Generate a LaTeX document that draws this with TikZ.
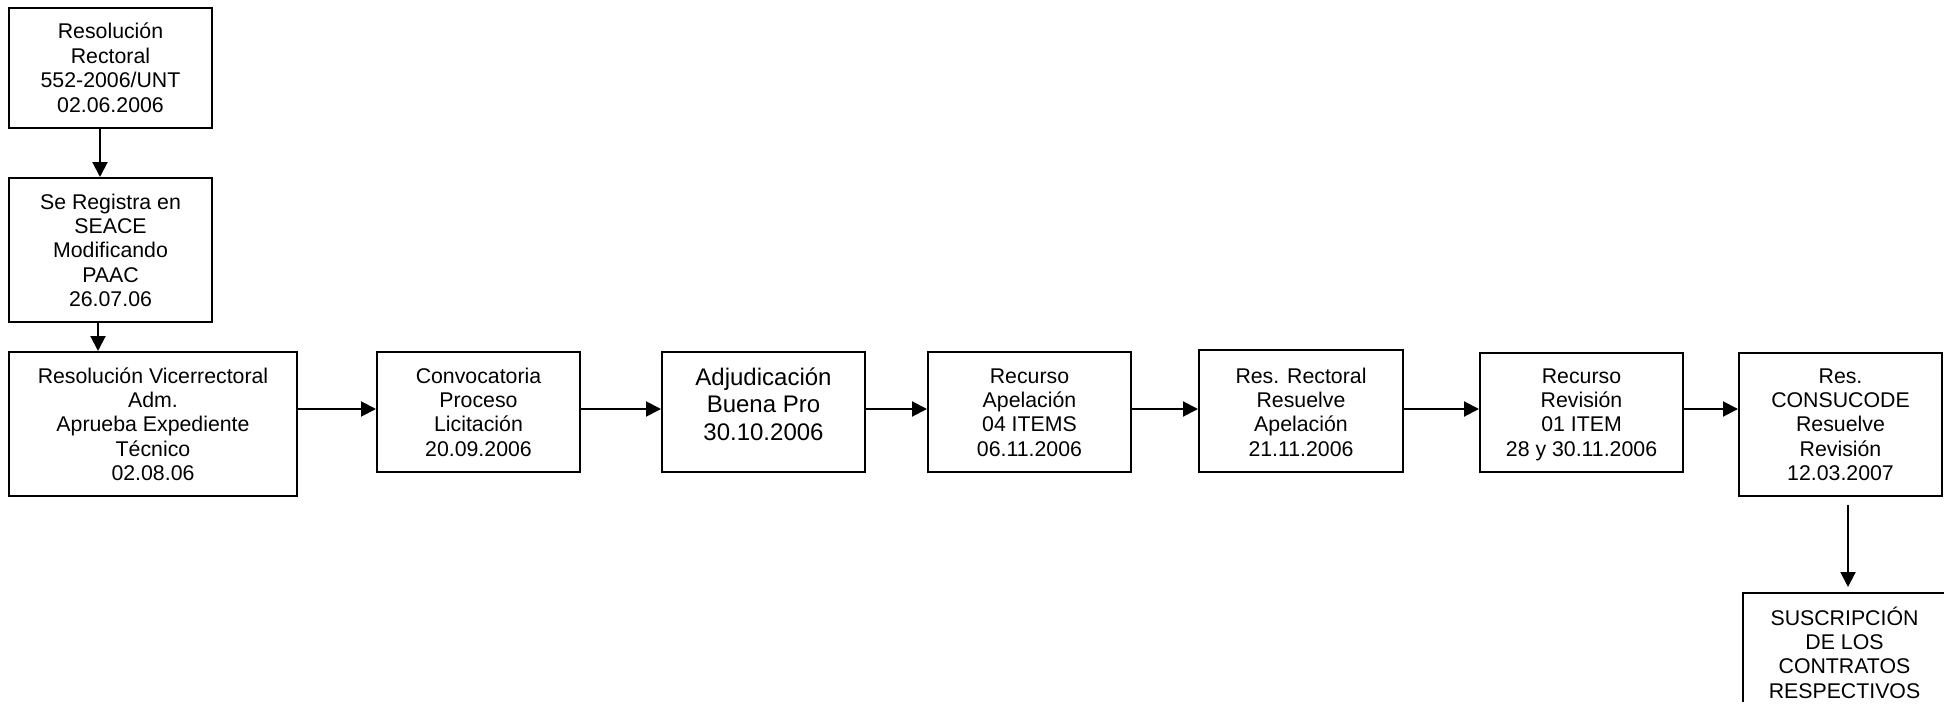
\documentclass[tikz,border=0pt]{standalone}
\usepackage{fontspec}
\setmainfont{Liberation Sans}
\usetikzlibrary{arrows.meta}
\tikzset{
  flowbox/.style={draw, line width=2pt, inner sep=0pt, anchor=north west,
    font=\fontsize{21.3}{24.4}\selectfont},
  bigtext/.style={font=\fontsize{24}{27.8}\selectfont},
  arr/.style={line width=2pt, -{Triangle[length=15pt,width=15pt]}},
}
\newcommand{\bxtext}[4]{\parbox[c][#2][t]{#1}{\centering\rule{0pt}{#3}#4}}
\begin{document}
\begin{tikzpicture}[x=1pt,y=-1pt]
\useasboundingbox (0,0) rectangle (1944,709);
\clip (0,0) rectangle (1944,701);
\node[flowbox] (b1) at (8,7) {\bxtext{203pt}{120pt}{31pt}{Resolución\\Rectoral\\552-2006/UNT\\02.06.2006}};
\node[flowbox] (b2) at (8,177) {\bxtext{203pt}{144pt}{31pt}{Se Registra en\\SEACE\\Modificando\\PAAC\\26.07.06}};
\node[flowbox] (b3) at (8,351) {\bxtext{288pt}{144pt}{31pt}{Resolución Vicerrectoral\\Adm.\\Aprueba Expediente\\Técnico\\02.08.06}};
\node[flowbox] (b4) at (376,351) {\bxtext{203pt}{120pt}{31pt}{Convocatoria\\Proceso\\Licitación\\20.09.2006}};
\node[flowbox,bigtext] (b5) at (661,351) {\bxtext{203pt}{120pt}{33pt}{Adjudicación\\Buena Pro\\30.10.2006}};
\node[flowbox] (b6) at (927,351) {\bxtext{203pt}{120pt}{31pt}{Recurso\\Apelación\\04 ITEMS\\06.11.2006}};
\node[flowbox] (b7) at (1198,349) {\bxtext{204pt}{122pt}{33pt}{Res. Rectoral\\Resuelve\\Apelación\\21.11.2006}};
\node[flowbox] (b8) at (1479,352) {\bxtext{203pt}{119pt}{30pt}{Recurso\\Revisión\\01 ITEM\\28 y 30.11.2006}};
\node[flowbox] (b9) at (1738,352) {\bxtext{203pt}{143pt}{30pt}{Res.\\CONSUCODE\\Resuelve\\Revisión\\12.03.2007}};
\node[flowbox] (b10) at (1742,592) {\bxtext{203pt}{130pt}{32pt}{SUSCRIPCIÓN\\DE LOS\\CONTRATOS\\RESPECTIVOS}};
\coordinate (row) at (0,409);
\draw[arr] ([xshift=-10.5pt]b1.south) -- ([xshift=-10.5pt]b1.south |- b2.north);
\draw[arr] ([xshift=-12.5pt]b2.south) -- ([xshift=-12.5pt]b2.south |- b3.north);
\draw[arr] (b3.east |- row) -- (b4.west |- row);
\draw[arr] (b4.east |- row) -- (b5.west |- row);
\draw[arr] (b5.east |- row) -- (b6.west |- row);
\draw[arr] (b6.east |- row) -- (b7.west |- row);
\draw[arr] (b7.east |- row) -- (b8.west |- row);
\draw[arr] (b8.east |- row) -- (b9.west |- row);
\draw[arr] ([xshift=7.5pt,yshift=-8pt]b9.south) -- ([xshift=3.5pt,yshift=5pt]b10.north);
\end{tikzpicture}
\end{document}
